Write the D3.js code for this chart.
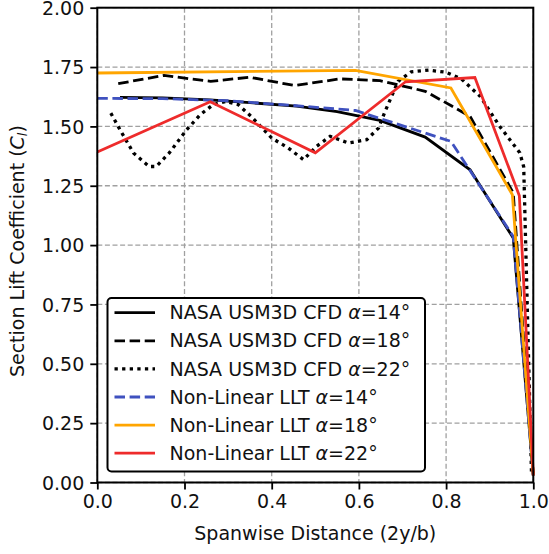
<!DOCTYPE html>
<html>
<head>
<meta charset="utf-8">
<script src="https://d3js.org/d3.v7.min.js"></script>
<style>
  body { margin: 0; background: white; }
  text { font-family: "DejaVu Sans", sans-serif; }
</style>
</head>
<body>
<svg width="549" height="554"></svg>
<script>
// values
var cfd14X = [0.052, 0.15, 0.258, 0.35, 0.457, 0.55, 0.648, 0.752, 0.855, 0.954, 1.0];
var cfd14Y = [1.622, 1.620, 1.612, 1.600, 1.585, 1.562, 1.525, 1.455, 1.317, 1.030, 0.03];

var cfd18X = [0.048, 0.153, 0.213, 0.26, 0.35, 0.453, 0.556, 0.648, 0.752, 0.811, 0.855, 0.954, 1.0];
var cfd18Y = [1.680, 1.715, 1.700, 1.690, 1.707, 1.672, 1.700, 1.693, 1.648, 1.588, 1.542, 1.220, 0.03];

var cfd22X = [0.031, 0.052, 0.083, 0.119, 0.135, 0.165, 0.205, 0.236, 0.266, 0.295, 0.323, 0.354, 0.40,
              0.438, 0.473, 0.503, 0.534, 0.576, 0.618, 0.645, 0.660, 0.69, 0.72, 0.76, 0.80, 0.835,
              0.878, 0.923, 0.969, 0.978, 0.996];
var cfd22Y = [1.556, 1.486, 1.388, 1.331, 1.331, 1.388, 1.486, 1.549, 1.592, 1.605, 1.592, 1.540, 1.451,
              1.409, 1.360, 1.416, 1.458, 1.430, 1.444, 1.493, 1.563, 1.69, 1.73, 1.737, 1.728, 1.700,
              1.627, 1.500, 1.389, 1.33, 0.03];

var llt14X = [0, 0.15, 0.3, 0.45, 0.592, 0.811, 0.954, 1.0];
var llt14Y = [1.618, 1.617, 1.608, 1.588, 1.567, 1.437, 1.036, 0.03];

var llt18X = [0, 0.592, 0.811, 0.952, 1.0];
var llt18Y = [1.725, 1.736, 1.662, 1.212, 0.03];

var llt22X = [0, 0.259, 0.5, 0.707, 0.866, 0.968, 1.0];
var llt22Y = [1.392, 1.604, 1.389, 1.688, 1.706, 1.208, 0.03];

var xTicks = [0, 0.2, 0.4, 0.6, 0.8, 1.0];
var yTicks = [0, 0.25, 0.5, 0.75, 1.0, 1.25, 1.5, 1.75, 2.0];

var series = [
  {name: "NASA USM3D CFD ", alpha: "14", xs: cfd14X, ys: cfd14Y, color: "#000", dash: null, w: 2.8},
  {name: "NASA USM3D CFD ", alpha: "18", xs: cfd18X, ys: cfd18Y, color: "#000", dash: "10.5,4.6", w: 2.8},
  {name: "NASA USM3D CFD ", alpha: "22", xs: cfd22X, ys: cfd22Y, color: "#000", dash: "3.3,4.3", w: 3.3},
  {name: "Non-Linear LLT ", alpha: "14", xs: llt14X, ys: llt14Y, color: "#3f51bf", dash: "10.5,4.6", w: 2.8},
  {name: "Non-Linear LLT ", alpha: "18", xs: llt18X, ys: llt18Y, color: "#ffa500", dash: null, w: 2.8},
  {name: "Non-Linear LLT ", alpha: "22", xs: llt22X, ys: llt22Y, color: "#ee2b2b", dash: null, w: 2.8}
];

var svg = d3.select("svg"),
    margin = {top: 7.7, right: 15.7, bottom: 71.5, left: 97.3},
    width = +svg.attr("width") - margin.left - margin.right,
    height = +svg.attr("height") - margin.top - margin.bottom;

var x = d3.scaleLinear().domain([0, 1]).range([0, width]),
    y = d3.scaleLinear().domain([0, 2]).range([height, 0]);

var g = svg.append("g")
    .attr("transform", "translate(" + margin.left + "," + margin.top + ")");

// grid
g.selectAll(".gx").data(xTicks).enter().append("line")
    .attr("x1", function(d) { return x(d); }).attr("x2", function(d) { return x(d); })
    .attr("y1", 0).attr("y2", height)
    .attr("stroke", "#a0a0a0").attr("stroke-width", 1.3).attr("stroke-dasharray", "5,2.6");
g.selectAll(".gy").data(yTicks).enter().append("line")
    .attr("y1", function(d) { return y(d); }).attr("y2", function(d) { return y(d); })
    .attr("x1", 0).attr("x2", width)
    .attr("stroke", "#a0a0a0").attr("stroke-width", 1.3).attr("stroke-dasharray", "5,2.6");

var line = d3.line()
    .x(function(d) { return x(d[0]); })
    .y(function(d) { return y(d[1]); });

series.forEach(function(s) {
  var pts = s.xs.map(function(v, i) { return [v, s.ys[i]]; });
  g.append("path")
      .datum(pts)
      .attr("d", line)
      .attr("fill", "none")
      .attr("stroke", s.color)
      .attr("stroke-width", s.w)
      .attr("stroke-dasharray", s.dash);
});

// axes
var xAxis = g.append("g")
    .attr("transform", "translate(0," + height + ")")
    .call(d3.axisBottom(x).tickValues(xTicks).tickFormat(d3.format(".1f")).tickSize(7).tickPadding(5));
var yAxis = g.append("g")
    .call(d3.axisLeft(y).tickValues(yTicks).tickFormat(d3.format(".2f")).tickSize(7).tickPadding(6));

[xAxis, yAxis].forEach(function(a) {
  a.select(".domain").remove();
  a.selectAll("line").attr("stroke", "#000").attr("stroke-width", 1.8);
  a.selectAll("text").attr("font-size", 19).attr("fill", "#111")
    .attr("font-family", "DejaVu Sans");
});
yAxis.selectAll("text").attr("dy", "0.36em");

g.append("rect")
    .attr("width", width).attr("height", height)
    .attr("fill", "none").attr("stroke", "#000").attr("stroke-width", 2);

svg.append("text")
    .attr("x", margin.left + width / 2).attr("y", 540)
    .attr("text-anchor", "middle").attr("font-size", 19).attr("fill", "#111")
    .text("Spanwise Distance (2y/b)");

var yl = svg.append("text")
    .attr("transform", "translate(24," + (margin.top + height / 2 + 6) + ") rotate(-90)")
    .attr("text-anchor", "middle").attr("font-size", 19).attr("fill", "#111");
yl.append("tspan").text("Section Lift Coefficient (");
yl.append("tspan").attr("font-style", "italic").text("C");
yl.append("tspan").attr("font-style", "italic").attr("font-size", 13).attr("dy", 3).text("l");
yl.append("tspan").attr("dy", -3).text(")");

// legend
var lg = svg.append("g").attr("transform", "translate(107.5,298)");
lg.append("rect")
    .attr("width", 317.5).attr("height", 173.5).attr("rx", 4)
    .attr("fill", "white").attr("stroke", "#000").attr("stroke-width", 2);

var rows = lg.selectAll(".row").data(series).enter().append("g")
    .attr("transform", function(d, i) { return "translate(0," + (14.7 + i * 28.1) + ")"; });
rows.append("line")
    .attr("x1", 7).attr("x2", 47.5)
    .attr("stroke", function(d) { return d.color; })
    .attr("stroke-width", function(d) { return d.w; })
    .attr("stroke-dasharray", function(d) { return d.dash; });
var lt = rows.append("text")
    .attr("x", 62).attr("dy", "0.35em").attr("font-size", 19).attr("fill", "#111");
lt.append("tspan").text(function(d) { return d.name; });
lt.append("tspan").attr("font-style", "italic").text("\u03b1");
lt.append("tspan").text(function(d) { return "=" + d.alpha + "\u00b0"; });
</script>
</body>
</html>
